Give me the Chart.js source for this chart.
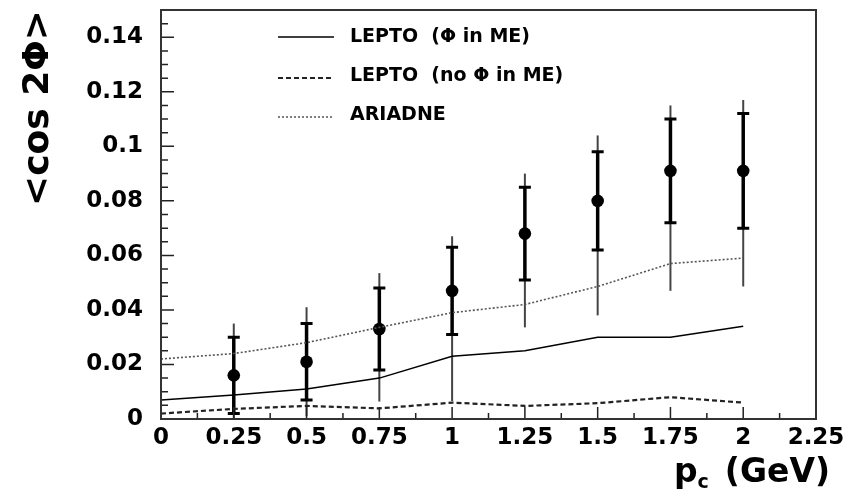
<!DOCTYPE html>
<html><head><meta charset="utf-8">
<script src="https://cdn.jsdelivr.net/npm/chart.js@4/dist/chart.umd.min.js"></script>
<style>html,body{margin:0;padding:0;background:#fff;}canvas{display:block;}</style>
</head><body>
<canvas id="c" width="866" height="493"></canvas>
<script>
// ---- data ----
const pc        = [0.25, 0.5, 0.75, 1.0, 1.25, 1.5, 1.75, 2.0];
const cos2phi   = [0.016, 0.021, 0.033, 0.047, 0.068, 0.080, 0.091, 0.091];
const statHigh  = [0.030, 0.035, 0.048, 0.063, 0.085, 0.098, 0.110, 0.112];
const statLow   = [0.002, 0.007, 0.018, 0.031, 0.051, 0.062, 0.072, 0.070];
const totHigh   = [0.035, 0.041, 0.0535, 0.067, 0.090, 0.104, 0.115, 0.117];
const totLow    = [-0.004, 0.001, 0.0064, 0.0066, 0.0336, 0.038, 0.047, 0.0486];

const modelPc    = [0, 0.25, 0.5, 0.75, 1.0, 1.25, 1.5, 1.75, 2.0];
const leptoPhi   = [0.007, 0.0088, 0.011, 0.015, 0.023, 0.025, 0.030, 0.030, 0.034];
const leptoNoPhi = [0.002, 0.0037, 0.0048, 0.0039, 0.006, 0.0048, 0.0058, 0.008, 0.006];
const ariadne    = [0.022, 0.024, 0.028, 0.0336, 0.039, 0.042, 0.0486, 0.057, 0.059];

const xTickValues = [0, 0.25, 0.5, 0.75, 1, 1.25, 1.5, 1.75, 2, 2.25];
const yTickValues = [0, 0.02, 0.04, 0.06, 0.08, 0.1, 0.12, 0.14];
const legendLabels = ['LEPTO  (\u03A6 in ME)', 'LEPTO  (no \u03A6 in ME)', 'ARIADNE'];
const yTitle = '<cos 2\u03A6>';

const FONT = 'DejaVu Sans';
const toPts = (xs, ys) => xs.map((x, i) => ({x: x, y: ys[i]}));
const fmt = v => String(+(+v).toFixed(4));

// error bars drawn through the scales
const errorBars = {
  id: 'errorBars',
  beforeDatasetsDraw(chart) {
    const {ctx, chartArea: a, scales: {x, y}} = chart;
    ctx.save();
    ctx.beginPath(); ctx.rect(a.left, a.top, a.right - a.left, a.bottom - a.top); ctx.clip();
    pc.forEach((v, i) => {
      const px = x.getPixelForValue(v);
      ctx.strokeStyle = '#444'; ctx.lineWidth = 2;
      ctx.beginPath(); ctx.moveTo(px, y.getPixelForValue(totLow[i])); ctx.lineTo(px, y.getPixelForValue(totHigh[i])); ctx.stroke();
      ctx.strokeStyle = '#000'; ctx.lineWidth = 3.5;
      const h = y.getPixelForValue(statHigh[i]), l = y.getPixelForValue(statLow[i]);
      ctx.beginPath(); ctx.moveTo(px, l); ctx.lineTo(px, h); ctx.stroke();
      ctx.lineWidth = 3;
      ctx.beginPath(); ctx.moveTo(px - 6, h); ctx.lineTo(px + 6, h); ctx.moveTo(px - 6, l); ctx.lineTo(px + 6, l); ctx.stroke();
    });
    ctx.restore();
  }
};

// frame, inward ticks, legend, x title
const decor = {
  id: 'decor',
  afterDraw(chart) {
    const {ctx, chartArea: a, scales: {x, y}} = chart;
    ctx.save();
    ctx.strokeStyle = '#222'; ctx.lineWidth = 1.5;
    ctx.beginPath();
    x.ticks.forEach(t => { const p = x.getPixelForValue(t.value); ctx.moveTo(p, a.bottom); ctx.lineTo(p, a.bottom - 12); });
    for (let v = 0.125; v < x.max; v += 0.25) { const p = x.getPixelForValue(v); ctx.moveTo(p, a.bottom); ctx.lineTo(p, a.bottom - 6); }
    y.ticks.forEach(t => { const p = y.getPixelForValue(t.value); ctx.moveTo(a.left, p); ctx.lineTo(a.left + 13, p); });
    for (let k = 1; k * 0.005 <= y.max + 1e-9; k++) {
      if (k % 4 === 0) continue;
      const p = y.getPixelForValue(k * 0.005); ctx.moveTo(a.left, p); ctx.lineTo(a.left + 7, p);
    }
    ctx.stroke();
    ctx.strokeStyle = '#333'; ctx.lineWidth = 2;
    ctx.strokeRect(a.left, a.top, a.right - a.left, a.bottom - a.top);
    // legend
    const rowsLine = [37, 78, 117], rowsText = [42, 81, 120];
    for (let i = 0; i < 3; i++) {
      const ds = chart.data.datasets[i];
      ctx.strokeStyle = ds.borderColor; ctx.lineWidth = ds.borderWidth;
      ctx.setLineDash(ds.borderDash || []);
      ctx.beginPath(); ctx.moveTo(278, rowsLine[i]); ctx.lineTo(334, rowsLine[i]); ctx.stroke();
      ctx.setLineDash([]);
      ctx.fillStyle = '#000'; ctx.font = 'bold 19px "' + FONT + '"';
      ctx.textBaseline = 'alphabetic'; ctx.textAlign = 'left';
      ctx.fillText(legendLabels[i], 350, rowsText[i]);
    }
    // x title: p_c (GeV)
    const big = 'bold 33px "' + FONT + '"', small = 'bold 19px "' + FONT + '"';
    ctx.font = big; const wp = ctx.measureText('p').width, wg = ctx.measureText('(GeV)').width;
    ctx.font = small; const wc = ctx.measureText('c').width;
    const gap = 16, right = 830, base = 482;
    let sx = right - (wp + wc + gap + wg);
    ctx.fillStyle = '#000';
    ctx.font = big; ctx.fillText('p', sx, base); sx += wp;
    ctx.font = small; ctx.fillText('c', sx, base + 6); sx += wc + gap;
    ctx.font = big; ctx.fillText('(GeV)', sx, base);
    ctx.restore();
  }
};

new Chart(document.getElementById('c'), {
  type: 'line',
  data: {
    datasets: [
      {label: legendLabels[0], data: toPts(modelPc, leptoPhi), borderColor: '#000', borderWidth: 1.5, pointRadius: 0, tension: 0, fill: false},
      {label: legendLabels[1], data: toPts(modelPc, leptoNoPhi), borderColor: '#222', borderWidth: 2.2, borderDash: [5, 3], pointRadius: 0, tension: 0, fill: false},
      {label: legendLabels[2], data: toPts(modelPc, ariadne), borderColor: '#555', borderWidth: 1.6, borderDash: [2, 2], pointRadius: 0, tension: 0, fill: false},
      {label: 'data', data: toPts(pc, cos2phi), showLine: false, pointRadius: 6.3, pointHoverRadius: 6.3, backgroundColor: '#000', borderColor: '#000', borderWidth: 0}
    ]
  },
  options: {
    responsive: false, animation: false, devicePixelRatio: 1,
    layout: {padding: {top: 10, right: 50, left: 0, bottom: 0}},
    plugins: {legend: {display: false}, tooltip: {enabled: false}},
    scales: {
      x: {
        type: 'linear', min: 0, max: 2.25,
        afterBuildTicks: s => { s.ticks = xTickValues.map(v => ({value: v})); },
        afterFit: s => { s.height = 74; s.paddingLeft = 0; s.paddingRight = 0; },
        grid: {display: false, drawTicks: false}, border: {display: false},
        ticks: {autoSkip: false, maxRotation: 0, padding: 5, color: '#000', callback: fmt,
                font: {family: FONT, weight: 'bold', size: 23}}
      },
      y: {
        type: 'linear', min: 0, max: 0.15,
        afterBuildTicks: s => { s.ticks = yTickValues.map(v => ({value: v})); },
        afterFit: s => { s.width = 161; s.paddingTop = 0; s.paddingBottom = 0; },
        grid: {display: false, drawTicks: false}, border: {display: false},
        ticks: {padding: 18, color: '#000', callback: fmt, font: {family: FONT, weight: 'bold', size: 23}},
        title: {display: true, text: yTitle, align: 'end', color: '#000', padding: {top: 17, bottom: 0},
                font: {family: FONT, weight: 'bold', size: 36}}
      }
    }
  },
  plugins: [errorBars, decor]
});
</script>
</body></html>
